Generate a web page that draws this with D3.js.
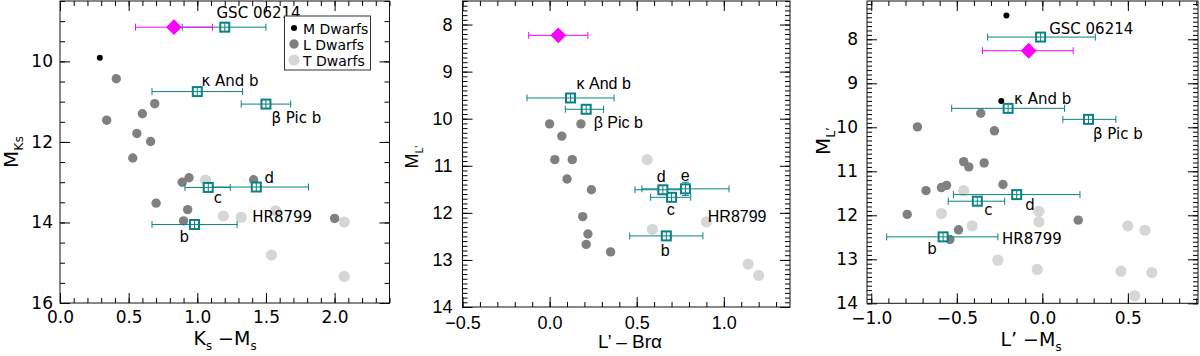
<!DOCTYPE html>
<html>
<head>
<meta charset="utf-8">
<script src="https://cdn.jsdelivr.net/npm/d3@7"></script>
<style>
  body { margin: 0; background: #fff; }
</style>
</head>
<body>
<svg width="1200" height="356"></svg>
<script>
// three colour-magnitude diagrams, field dwarfs vs. directly imaged companions

// --- panel 1: Ks - Ms vs M_Ks
const ksMsM = [[0.29, 9.91]];
const ksMsL = [[0.41, 10.43], [0.34, 11.46], [0.69, 11.05], [0.60, 11.30], [0.56, 11.79],
  [0.66, 11.99], [0.53, 12.40], [0.94, 12.89], [0.89, 13.00], [1.41, 12.94], [0.70, 13.52],
  [0.93, 13.68], [0.90, 13.96], [2.00, 13.90]];
const ksMsT = [[1.06, 12.95], [1.19, 13.84], [1.32, 13.87], [1.57, 13.71], [2.07, 13.99],
  [1.54, 14.81], [2.07, 15.34]];
// companions: colour, lower / upper colour error, magnitude
const ksMsPlanets = [
  { name: "GSC 06214", x: 1.20, lo: 0.89, hi: 1.50, y: 9.15 },
  { name: "κ And b", x: 1.00, lo: 0.67, hi: 1.33, y: 10.75 },
  { name: "β Pic b", x: 1.50, lo: 1.32, hi: 1.68, y: 11.06 },
  { name: "HR8799 b", x: 0.98, lo: 0.67, hi: 1.29, y: 14.05 },
  { name: "HR8799 c", x: 1.08, lo: 0.91, hi: 1.24, y: 13.13 },
  { name: "HR8799 d", x: 1.43, lo: 1.06, hi: 1.81, y: 13.12 }
];
const ksMsTarget = { x: 0.83, lo: 0.55, hi: 1.11, y: 9.15 };

// --- panel 2: L' - Br alpha vs M_L'
const brL = [[0.00, 10.11], [0.18, 10.11], [0.07, 10.37], [0.03, 10.87], [0.13, 10.87],
  [0.10, 11.28], [0.24, 11.51], [0.19, 12.08], [0.22, 12.45], [0.21, 12.67], [0.35, 12.83]];
const brT = [[0.56, 10.87], [0.59, 12.35], [0.90, 12.19], [1.14, 13.09], [1.20, 13.33]];
const brPlanets = [
  { name: "κ And b", x: 0.12, lo: -0.13, hi: 0.37, y: 9.56 },
  { name: "β Pic b", x: 0.21, lo: 0.09, hi: 0.31, y: 9.80 },
  { name: "HR8799 b", x: 0.67, lo: 0.46, hi: 0.88, y: 12.49 },
  { name: "HR8799 c", x: 0.70, lo: 0.58, hi: 0.81, y: 11.67 },
  { name: "HR8799 d", x: 0.65, lo: 0.49, hi: 0.80, y: 11.51 },
  { name: "HR8799 e", x: 0.78, lo: 0.53, hi: 1.03, y: 11.49, yerr: 0.14 }
];
const brTarget = { x: 0.05, lo: -0.12, hi: 0.22, y: 8.23 };

// --- panel 3: L' - Ms vs M_L'
const lMsM = [[-0.21, 7.46], [-0.24, 9.40]];
const lMsL = [[-0.36, 9.68], [-0.73, 9.99], [-0.28, 10.08], [-0.46, 10.78], [-0.43, 10.90],
  [-0.34, 10.81], [-0.68, 11.44], [-0.59, 11.37], [-0.56, 11.32], [-0.23, 11.30],
  [-0.79, 11.98], [0.21, 12.11], [-0.49, 12.33], [-0.54, 12.55]];
const lMsT = [[-0.46, 11.44], [-0.59, 11.96], [-0.41, 12.24], [-0.02, 11.91], [-0.02, 12.15],
  [-0.26, 13.02], [-0.03, 13.23], [0.50, 12.24], [0.60, 12.34], [0.46, 13.27], [0.64, 13.30],
  [0.54, 13.83]];
const lMsPlanets = [
  { name: "GSC 06214", x: -0.01, lo: -0.32, hi: 0.31, y: 7.95 },
  { name: "κ And b", x: -0.20, lo: -0.53, hi: 0.13, y: 9.57 },
  { name: "β Pic b", x: 0.27, lo: 0.12, hi: 0.43, y: 9.82 },
  { name: "HR8799 b", x: -0.58, lo: -0.91, hi: -0.26, y: 12.49 },
  { name: "HR8799 c", x: -0.38, lo: -0.55, hi: -0.22, y: 11.68 },
  { name: "HR8799 d", x: -0.15, lo: -0.52, hi: 0.22, y: 11.53 }
];
const lMsTarget = { x: -0.08, lo: -0.35, hi: 0.18, y: 8.26 };

const legendLabels = ["M Dwarfs", "L Dwarfs", "T Dwarfs"];

const svg = d3.select("svg");
const teal = "#0a8282";
const magenta = "#ff00ff";
const lColor = "#808080";
const tColor = "#d6d6d6";

function ticksBy(dom, step) {
  const lo = Math.min(dom[0], dom[1]), hi = Math.max(dom[0], dom[1]);
  const a = Math.ceil(lo / step - 1e-6), b = Math.floor(hi / step + 1e-6);
  return d3.range(a, b + 1).map(i => +(i * step).toFixed(4));
}

function drawPanel(p) {
  const x = d3.scaleLinear().domain(p.xDomain).range([p.left, p.right]);
  const y = d3.scaleLinear().domain(p.yDomain).range([p.top, p.bottom]);
  const g = svg.append("g").attr("font-family", p.font);

  // field dwarfs
  g.selectAll(".t").data(p.tDwarfs).enter().append("circle")
    .attr("cx", d => x(d[0])).attr("cy", d => y(d[1])).attr("r", 5.6).attr("fill", tColor);
  g.selectAll(".l").data(p.lDwarfs).enter().append("circle")
    .attr("cx", d => x(d[0])).attr("cy", d => y(d[1])).attr("r", 4.7).attr("fill", lColor);
  g.selectAll(".m").data(p.mDwarfs || []).enter().append("circle")
    .attr("cx", d => x(d[0])).attr("cy", d => y(d[1])).attr("r", 3).attr("fill", "#000");

  // error bars
  const bars = p.planets.concat([Object.assign({ target: true }, p.target)]);
  const eb = g.selectAll(".eb").data(bars).enter().append("g")
    .attr("stroke", d => d.target ? magenta : teal).attr("stroke-width", 1);
  eb.append("line").attr("x1", d => x(d.lo)).attr("x2", d => x(d.hi))
    .attr("y1", d => y(d.y)).attr("y2", d => y(d.y));
  eb.append("line").attr("x1", d => x(d.lo)).attr("x2", d => x(d.lo))
    .attr("y1", d => y(d.y) - 3.5).attr("y2", d => y(d.y) + 3.5);
  eb.append("line").attr("x1", d => x(d.hi)).attr("x2", d => x(d.hi))
    .attr("y1", d => y(d.y) - 3.5).attr("y2", d => y(d.y) + 3.5);
  eb.filter(d => d.yerr).each(function (d) {
    const s = d3.select(this);
    s.append("line").attr("x1", x(d.x)).attr("x2", x(d.x))
      .attr("y1", y(d.y - d.yerr)).attr("y2", y(d.y + d.yerr));
    [d.y - d.yerr, d.y + d.yerr].forEach(v => s.append("line")
      .attr("x1", x(d.x) - 3.5).attr("x2", x(d.x) + 3.5).attr("y1", y(v)).attr("y2", y(v)));
  });

  // companion squares
  const sq = g.selectAll(".sq").data(p.planets).enter().append("g")
    .attr("transform", d => `translate(${x(d.x)},${y(d.y)})`);
  sq.append("rect").attr("x", -4.5).attr("y", -4.5).attr("width", 9).attr("height", 9)
    .attr("fill", "#fff").attr("stroke", teal).attr("stroke-width", 2);
  sq.append("path").attr("d", "M-4,0H4M0,-4V4").attr("stroke", teal).attr("stroke-width", 1);

  // target diamond
  g.append("path").datum(p.target)
    .attr("d", d3.symbol().type(d3.symbolSquare).size(125))
    .attr("transform", d => `translate(${x(d.x)},${y(d.y)}) rotate(45)`)
    .attr("fill", magenta);

  // annotations
  g.selectAll(".ann").data(p.labels).enter().append("text")
    .attr("x", d => x(d[1])).attr("y", d => y(d[2]))
    .attr("font-size", p.annSize).attr("fill", "#000").text(d => d[0]);

  // axes, ticks inward on all sides
  const fmt = d3.format(".1f");
  const xMaj = ticksBy(p.xDomain, p.xMajor), xMin = ticksBy(p.xDomain, p.xMinor);
  const yMaj = ticksBy(p.yDomain, p.yMajor), yMin = ticksBy(p.yDomain, p.yMinor);
  const axes = [
    [d3.axisBottom(x), `translate(0,${p.bottom})`, xMaj, xMin, fmt, p.xPad],
    [d3.axisTop(x), `translate(0,${p.top})`, xMaj, xMin, "", 0],
    [d3.axisLeft(y), `translate(${p.left},0)`, yMaj, yMin, d3.format("d"), p.yPad],
    [d3.axisRight(y), `translate(${p.right},0)`, yMaj, yMin, "", 0]
  ];
  axes.forEach(([ax, tr, maj, min, f, pad]) => {
    g.append("g").attr("transform", tr)
      .call(ax.tickValues(min).tickSize(-5).tickFormat(""))
      .call(s => s.select(".domain").remove());
    g.append("g").attr("transform", tr)
      .call(ax.tickValues(maj).tickSize(-10).tickPadding(pad).tickFormat(f))
      .attr("font-family", p.font).attr("font-size", p.tickSize)
      .call(s => s.select(".domain").remove())
      .call(s => s.selectAll("text").attr("fill", "#000"));
  });

  g.append("rect").attr("x", p.left).attr("y", p.top)
    .attr("width", p.right - p.left).attr("height", p.bottom - p.top)
    .attr("fill", "none").attr("stroke", "#111").attr("stroke-width", 1);

  // axis titles
  const xt = g.append("text").attr("x", p.xTitle[0]).attr("y", p.xTitle[1])
    .attr("text-anchor", "middle").attr("font-size", p.titleSize);
  p.xTitleParts.forEach(([t, sub]) => xt.append("tspan")
    .attr("font-size", sub ? p.titleSize * 0.62 : null).attr("dy", sub ? 5 : (xt.node().childNodes.length ? -5 : 0)).text(t));

  const yt = g.append("text")
    .attr("transform", `translate(${p.yTitle[0]},${p.yTitle[1]}) rotate(-90)`)
    .attr("text-anchor", "middle").attr("font-size", p.yTitleSize);
  yt.append("tspan").text("M");
  yt.append("tspan").attr("font-size", p.yTitleSize * 0.62).attr("dy", 5).text(p.ySub);

  return { g, x, y };
}

const p1 = drawPanel({
  left: 60, right: 389.5, top: 1, bottom: 303,
  xDomain: [0, 2.4], yDomain: [8.5, 16],
  xMajor: 0.5, xMinor: 0.1, yMajor: 2, yMinor: 0.5,
  font: "DejaVu Sans", tickSize: 17, xPad: 8, yPad: 7,
  mDwarfs: ksMsM, lDwarfs: ksMsL, tDwarfs: ksMsT,
  planets: ksMsPlanets, target: ksMsTarget,
  annSize: 15,
  labels: [["GSC 06214", 1.14, 8.93], ["κ And b", 1.03, 10.6], ["β Pic b", 1.54, 11.54],
    ["d", 1.49, 13.03], ["c", 1.12, 13.52], ["HR8799", 1.40, 14.0], ["b", 0.87, 14.49]],
  titleSize: 19, xTitle: [225, 350], xTitleParts: [["K"], ["s", 1], [" −M"], ["s", 1]],
  yTitleSize: 20, yTitle: [18, 152], ySub: "Ks"
});

// legend
const lg = p1.g.append("g");
lg.append("rect").attr("x", 284.5).attr("y", 16).attr("width", 86).attr("height", 54)
  .attr("fill", "#fff").attr("stroke", "#333").attr("stroke-width", 1);
const legendStyle = [["#000", 3], [lColor, 4.7], [tColor, 5.6]];
legendLabels.forEach((t, i) => {
  lg.append("circle").attr("cx", 294).attr("cy", 28 + i * 16).attr("r", legendStyle[i][1])
    .attr("fill", legendStyle[i][0]);
  lg.append("text").attr("x", 303).attr("y", 33.5 + i * 16).attr("font-size", 14).text(t);
});

drawPanel({
  left: 462.5, right: 790, top: 1, bottom: 307,
  xDomain: [-0.5, 1.38], yDomain: [7.5, 14],
  xMajor: 0.5, xMinor: 0.1, yMajor: 1, yMinor: 0.1,
  font: "Liberation Sans", tickSize: 18, xPad: 9, yPad: 10,
  lDwarfs: brL, tDwarfs: brT,
  planets: brPlanets, target: brTarget,
  annSize: 16,
  labels: [["κ And b", 0.155, 9.36], ["β Pic b", 0.253, 10.19], ["d", 0.615, 11.34],
    ["e", 0.753, 11.32], ["c", 0.672, 12.04], ["HR8799", 0.908, 12.19], ["b", 0.638, 12.91]],
  titleSize: 19, xTitle: [630, 353], xTitleParts: [["L’ – Brα"]],
  yTitleSize: 18, yTitle: [418, 157], ySub: "L’"
});

drawPanel({
  left: 867, right: 1198, top: 1, bottom: 303.3,
  xDomain: [-1.025, 0.91], yDomain: [7.13, 14],
  xMajor: 0.5, xMinor: 0.1, yMajor: 1, yMinor: 0.1,
  font: "DejaVu Sans", tickSize: 17, xPad: 9, yPad: 9,
  mDwarfs: lMsM, lDwarfs: lMsL, tDwarfs: lMsT,
  planets: lMsPlanets, target: lMsTarget,
  annSize: 15,
  labels: [["GSC 06214", 0.04, 7.88], ["κ And b", -0.165, 9.47], ["β Pic b", 0.296, 10.27],
    ["d", -0.10, 11.88], ["c", -0.34, 11.99], ["HR8799", -0.236, 12.65], ["b", -0.673, 12.88]],
  titleSize: 19, xTitle: [1031, 351], xTitleParts: [["L’ −M"], ["s", 1]],
  yTitleSize: 20, yTitle: [830, 141], ySub: "L’"
});
</script>
</body>
</html>
